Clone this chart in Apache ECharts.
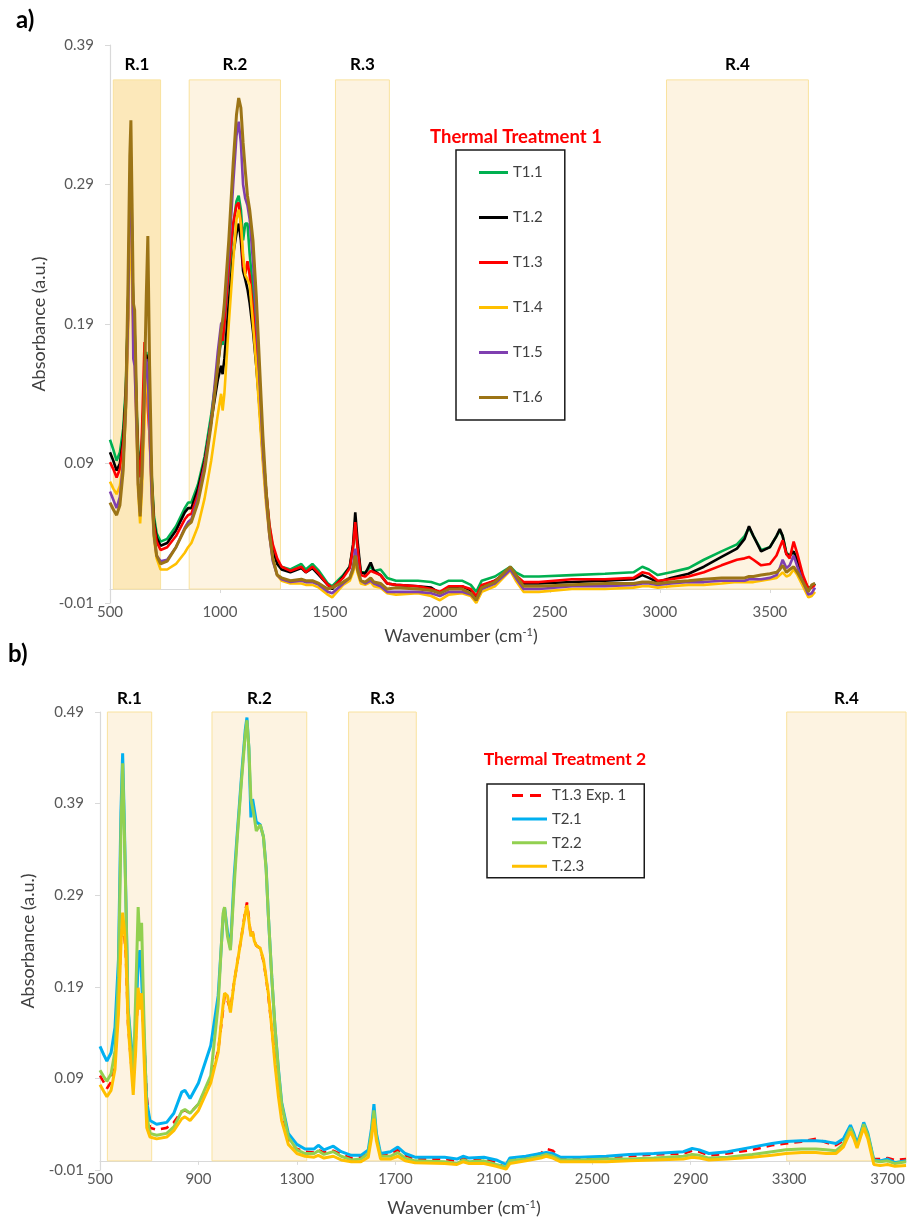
<!DOCTYPE html>
<html>
<head>
<meta charset="utf-8">
<script src="https://cdn.jsdelivr.net/npm/echarts@6/dist/echarts.min.js"></script>
<style>
  html, body { margin: 0; padding: 0; background: #ffffff; }
  #chart { width: 908px; height: 1221px; }
</style>
</head>
<body>
<div id="chart"></div>
<script>
// ---------- Panel a: Thermal Treatment 1 (six samples) ----------
const wnA = [500,515,530,545,560,572,582,590,595,600,606,612,620,628,637,645,657,665,672,680,690,700,712,730,760,800,840,855,870,900,930,960,990,1005,1012,1020,1040,1060,1075,1085,1095,1105,1115,1125,1135,1150,1165,1180,1195,1210,1225,1240,1260,1280,1320,1370,1390,1420,1450,1490,1510,1560,1590,1605,1615,1625,1640,1660,1685,1700,1730,1760,1800,1900,1960,2000,2040,2100,2140,2165,2190,2250,2300,2320,2345,2380,2450,2600,2750,2880,2920,2950,2990,3050,3130,3200,3280,3350,3385,3405,3425,3460,3500,3530,3545,3558,3575,3590,3608,3625,3650,3675,3690,3705];

const t11 = [.107,.100,.092,.098,.115,.145,.200,.270,.295,.250,.195,.185,.135,.100,.088,.105,.150,.170,.160,.120,.080,.052,.040,.034,.036,.045,.058,.062,.062,.075,.095,.125,.160,.178,.175,.190,.225,.260,.278,.282,.272,.250,.262,.262,.240,.215,.175,.140,.100,.070,.045,.030,.020,.016,.014,.018,.014,.018,.013,.004,.002,.010,.016,.030,.045,.030,.012,.012,.016,.013,.014,.008,.006,.006,.005,.003,.006,.006,.003,-.002,.006,.009,.014,.016,.012,.009,.009,.010,.011,.012,.016,.014,.010,.012,.015,.021,.027,.032,.038,.044,.038,.028,.030,.038,.042,.038,.026,.024,.027,.020,.008,.000,.002,.004];
const t12 = [.098,.092,.085,.090,.108,.140,.200,.270,.295,.250,.195,.185,.130,.095,.083,.100,.150,.168,.160,.118,.076,.048,.037,.031,.033,.042,.055,.058,.058,.072,.092,.120,.150,.160,.154,.165,.205,.240,.255,.262,.250,.228,.222,.215,.205,.185,.160,.130,.095,.065,.042,.028,.018,.014,.012,.015,.012,.015,.010,.003,.000,.009,.016,.032,.055,.035,.012,.011,.019,.013,.010,.004,.003,.002,.001,-.003,.001,.002,-.001,-.006,.002,.006,.012,.015,.010,.004,.004,.005,.006,.007,.010,.008,.005,.008,.011,.016,.023,.029,.036,.045,.038,.027,.030,.038,.043,.038,.025,.024,.027,.020,.008,.000,.002,.004];
const t13 = [.091,.086,.080,.086,.104,.136,.195,.265,.290,.245,.190,.180,.125,.092,.080,.110,.177,.150,.130,.110,.072,.046,.034,.028,.030,.038,.050,.053,.054,.068,.090,.120,.160,.181,.178,.190,.230,.262,.275,.277,.262,.232,.226,.235,.225,.200,.170,.140,.100,.070,.046,.032,.022,.016,.013,.016,.012,.016,.011,.003,.001,.008,.015,.030,.048,.030,.010,.009,.013,.012,.010,.004,.003,.002,.000,-.002,.002,.002,.000,-.005,.003,.006,.012,.015,.010,.005,.005,.007,.007,.008,.012,.011,.006,.007,.009,.012,.017,.021,.022,.023,.021,.017,.018,.024,.030,.035,.025,.022,.034,.025,.010,.000,.001,.003];
const t14 = [.077,.072,.068,.074,.092,.125,.180,.250,.275,.230,.175,.165,.115,.070,.047,.070,.120,.155,.150,.110,.062,.036,.022,.014,.014,.018,.026,.030,.033,.045,.065,.092,.125,.140,.128,.140,.190,.235,.265,.272,.262,.240,.225,.222,.218,.190,.160,.125,.090,.060,.038,.022,.010,.006,.004,.004,.003,.003,.001,-.004,-.006,.003,.006,.012,.020,.012,.004,.003,.005,.002,.001,-.003,-.004,-.003,-.005,-.008,-.004,-.003,-.005,-.010,-.002,.002,.010,.013,.006,-.002,-.002,.000,.000,.001,.002,.002,.001,.002,.003,.003,.004,.005,.005,.005,.005,.006,.007,.008,.010,.012,.009,.010,.014,.010,.002,-.006,-.005,-.002];
const t15 = [.070,.064,.058,.066,.090,.130,.195,.280,.310,.260,.165,.160,.120,.075,.055,.080,.140,.165,.155,.115,.065,.038,.024,.020,.021,.030,.044,.048,.050,.065,.088,.120,.170,.190,.192,.200,.240,.290,.325,.335,.320,.290,.280,.275,.265,.235,.195,.150,.100,.065,.038,.020,.010,.007,.005,.006,.005,.005,.003,-.002,-.003,.004,.008,.016,.029,.016,.006,.004,.006,.004,.002,-.002,-.002,-.002,-.003,-.005,-.002,-.002,-.004,-.008,.000,.004,.011,.014,.008,.000,.000,.002,.002,.003,.004,.004,.003,.004,.005,.005,.006,.006,.006,.007,.007,.007,.008,.010,.015,.021,.015,.017,.024,.016,.005,-.004,-.003,.001];
const t16 = [.062,.057,.053,.060,.085,.135,.220,.310,.336,.280,.205,.200,.140,.075,.052,.085,.150,.210,.253,.160,.080,.040,.024,.018,.020,.030,.043,.046,.048,.062,.085,.118,.160,.185,.192,.205,.250,.305,.340,.352,.345,.320,.300,.282,.272,.250,.210,.160,.110,.070,.040,.022,.010,.008,.006,.007,.006,.006,.004,.000,.001,.005,.008,.014,.024,.014,.006,.005,.008,.005,.004,.000,.001,.000,-.001,-.003,.000,.000,-.003,-.008,.001,.005,.013,.016,.010,.002,.002,.003,.004,.004,.005,.005,.004,.005,.006,.007,.008,.008,.008,.009,.009,.010,.011,.012,.014,.017,.012,.014,.016,.012,.005,-.002,.003,.004];

// ---------- Panel b: Thermal Treatment 2 (reference + three samples) ----------
const wnB = [500,515,528,545,561,575,585,592,598,605,614,624,635,645,655,662,669,678,690,703,730,771,800,832,845,866,900,950,980,1000,1006,1018,1030,1045,1057,1075,1090,1097,1105,1113,1120,1127,1135,1151,1164,1175,1184,1198,1211,1225,1238,1265,1300,1333,1370,1387,1410,1448,1480,1521,1560,1590,1603,1613,1623,1640,1680,1710,1740,1780,1900,1950,1975,2000,2060,2110,2150,2165,2230,2290,2313,2340,2370,2450,2557,2650,2750,2870,2906,2935,2974,3050,3150,3230,3287,3350,3409,3450,3490,3520,3549,3563,3576,3590,3603,3620,3644,3670,3700,3730,3775];

const t13exp1 = [.093,.086,.079,.086,.110,.170,.240,.268,.250,.225,.150,.115,.080,.130,.185,.170,.175,.138,.070,.036,.034,.036,.042,.054,.055,.052,.062,.090,.120,.165,.180,.175,.165,.195,.215,.245,.272,.282,.265,.245,.250,.240,.235,.232,.218,.200,.180,.145,.110,.075,.050,.022,.013,.010,.009,.012,.009,.011,.007,.003,.004,.009,.030,.055,.026,.006,.008,.012,.006,.002,.002,.000,.003,.002,.002,-.002,-.008,.001,.004,.008,.013,.011,.003,.003,.004,.005,.007,.008,.011,.010,.006,.008,.012,.017,.019,.021,.024,.020,.017,.022,.036,.028,.017,.028,.039,.027,.002,.002,.003,.001,.002];
const t21 = [.125,.116,.109,.118,.146,.220,.380,.445,.380,.290,.167,.136,.105,.140,.220,.230,.200,.140,.064,.044,.040,.042,.052,.075,.077,.068,.085,.126,.180,.265,.277,.250,.232,.310,.355,.420,.470,.484,.450,.375,.395,.397,.370,.367,.354,.320,.268,.200,.146,.100,.064,.030,.018,.013,.013,.017,.012,.016,.010,.006,.006,.012,.035,.062,.030,.008,.010,.015,.008,.004,.004,.002,.005,.003,.004,.001,-.004,.003,.005,.008,.009,.008,.004,.004,.005,.007,.008,.010,.0135,.012,.008,.010,.015,.019,.021,.022,.022,.021,.019,.024,.039,.030,.019,.030,.042,.030,.001,.000,.002,-.002,.000];
const t22 = [.099,.092,.087,.095,.120,.200,.360,.434,.370,.285,.165,.126,.089,.180,.277,.240,.260,.160,.050,.030,.028,.030,.037,.054,.056,.052,.062,.093,.170,.270,.277,.245,.230,.300,.350,.415,.465,.481,.450,.395,.385,.375,.360,.367,.354,.318,.268,.200,.146,.098,.062,.026,.012,.008,.008,.011,.007,.010,.005,.001,.002,.008,.030,.055,.026,.005,.005,.009,.003,.000,-.001,-.003,.001,-.001,.000,-.004,-.007,.000,.002,.005,.007,.005,.001,.001,.002,.002,.003,.005,.007,.006,.003,.004,.007,.010,.012,.013,.013,.012,.011,.018,.036,.027,.016,.028,.040,.028,.000,-.001,.000,-.003,-.001];
const t23 = [.083,.076,.070,.077,.100,.160,.235,.271,.255,.228,.150,.112,.072,.120,.189,.165,.183,.120,.036,.026,.024,.026,.033,.046,.048,.044,.055,.085,.118,.170,.183,.180,.162,.195,.215,.245,.270,.279,.262,.245,.250,.240,.235,.232,.220,.200,.183,.145,.105,.070,.044,.018,.008,.005,.004,.006,.003,.005,.001,-.001,-.001,.004,.025,.046,.022,.002,.002,.005,.000,-.002,-.003,-.004,-.001,-.003,-.003,-.006,-.009,-.003,.000,.003,.005,.003,-.001,-.001,-.001,.000,.001,.002,.004,.003,.001,.002,.004,.006,.008,.009,.009,.008,.008,.015,.032,.024,.014,.026,.036,.024,-.004,-.005,-.004,-.006,-.005];

// Highlighted spectral regions
const regionNames = ['R.1', 'R.2', 'R.3', 'R.4'];
const regionFromA = [515, 860, 1525, 3030];
const regionToA = [730, 1275, 1770, 3675];
const regionTopA = 0.365;
const regionFromB = [530, 955, 1510, 3290];
const regionToB = [710, 1340, 1785, 3775];
const regionTopB = 0.49;

// Axis tick values
const yTicksA = [-0.01, 0.09, 0.19, 0.29, 0.39];
const xTicksA = [500, 1000, 1500, 2000, 2500, 3000, 3500];
const yTicksB = [-0.01, 0.09, 0.19, 0.29, 0.39, 0.49];
const xTicksB = [500, 900, 1300, 1700, 2100, 2500, 2900, 3300, 3700];

const FONT = 'Lato, "Open Sans", sans-serif';
const AXIS_GRAY = '#D9D9D9';
const LABEL_GRAY = '#595959';
const TITLE_GRAY = '#404040';

// Legend glyphs: a plain stroke, and a two-dash stroke for the dashed reference curve
const ICON_SOLID = 'rect';
const ICON_DASHED = 'path://M0,0h11v3h-11z M18,0h11v3h-11z M34.8,1.4h0.2v0.2h-0.2z';

const chart = echarts.init(document.getElementById('chart'), null, { renderer: 'canvas' });

function lineSeries(name, wn, values, color, axis, extra) {
  return Object.assign({
    type: 'line',
    name: name,
    xAxisIndex: axis,
    yAxisIndex: axis,
    data: wn.map((w, i) => [w, values[i]]),
    showSymbol: false,
    symbol: 'none',
    silent: true,
    clip: false,
    lineStyle: { width: 2.6, color: color },
    itemStyle: { color: color }
  }, extra || {});
}

function regionArea(from, to, top, fills, labelDistance) {
  return {
    silent: true,
    label: { show: true, position: 'top', distance: labelDistance, fontFamily: FONT, fontWeight: 'bold', fontSize: 17, color: '#000000' },
    itemStyle: { color: '#FDF3E1', borderColor: '#F9E29E', borderWidth: 1 },
    data: regionNames.map((n, i) => [
      { name: n, xAxis: from[i], yAxis: 0, itemStyle: fills[i] ? { color: fills[i] } : undefined },
      { xAxis: to[i], yAxis: top }
    ])
  };
}

const seriesA = [
  lineSeries('T1.1', wnA, t11, '#00B050', 0, { markArea: regionArea(regionFromA, regionToA, regionTopA, ['#FCE8BA', null, null, null], 6) }),
  lineSeries('T1.2', wnA, t12, '#000000', 0),
  lineSeries('T1.3', wnA, t13, '#FF0000', 0),
  lineSeries('T1.4', wnA, t14, '#FFC000', 0),
  lineSeries('T1.5', wnA, t15, '#7F3FB0', 0),
  lineSeries('T1.6', wnA, t16, '#9C7416', 0, { lineStyle: { width: 3, color: '#9C7416' } })
];

const seriesB = [
  lineSeries('T1.3 Exp. 1', wnB, t13exp1, '#FF0000', 1, {
    lineStyle: { width: 2.6, color: '#FF0000', type: [8, 6] },
    markArea: regionArea(regionFromB, regionToB, regionTopB, [null, null, null, null], 4)
  }),
  lineSeries('T2.1', wnB, t21, '#00B0F0', 1, { lineStyle: { width: 3, color: '#00B0F0' } }),
  lineSeries('T2.2', wnB, t22, '#92D050', 1, { lineStyle: { width: 3, color: '#92D050' } }),
  lineSeries('T.2.3', wnB, t23, '#FFC000', 1, { lineStyle: { width: 3, color: '#FFC000' } })
];

function valueYAxis(grid, min, max, ticks, nameGap) {
  return {
    type: 'value', gridIndex: grid, min: min, max: max,
    name: 'Absorbance (a.u.)', nameLocation: 'middle', nameGap: nameGap,
    nameTextStyle: { fontFamily: FONT, fontSize: 18, color: TITLE_GRAY },
    axisLine: { show: true, lineStyle: { color: AXIS_GRAY, width: 1.2 } },
    axisTick: { show: true, length: 5, lineStyle: { color: AXIS_GRAY }, customValues: ticks },
    axisLabel: { fontFamily: FONT, fontSize: 15, color: LABEL_GRAY, margin: 16, customValues: ticks, formatter: v => v.toFixed(2) },
    splitLine: { show: false }
  };
}

// The horizontal axis crosses the vertical one at zero absorbance;
// offset lifts it from the plot bottom (-0.01) up to that zero level.
function valueXAxis(grid, min, max, ticks, offset, margin) {
  return {
    type: 'value', gridIndex: grid, min: min, max: max,
    position: 'bottom', offset: offset,
    axisLine: { show: true, onZero: false, lineStyle: { color: AXIS_GRAY, width: 1.2 } },
    axisTick: { show: true, length: 4, lineStyle: { color: AXIS_GRAY }, customValues: ticks },
    axisLabel: { fontFamily: FONT, fontSize: 15, color: LABEL_GRAY, margin: margin, customValues: ticks, formatter: v => String(v) },
    splitLine: { show: false }
  };
}

const option = {
  animation: false,
  backgroundColor: '#ffffff',
  grid: [
    { left: 110, top: 45, width: 705, height: 558 },
    { left: 100, top: 712, width: 807, height: 458 }
  ],
  xAxis: [
    valueXAxis(0, 500, 3705, xTicksA, -13.95, 16),
    valueXAxis(1, 500, 3775, xTicksB, -9.16, 11)
  ],
  yAxis: [
    valueYAxis(0, -0.01, 0.39, yTicksA, 54),
    valueYAxis(1, -0.01, 0.49, yTicksB, 63)
  ],
  legend: [
    {
      data: ['T1.1', 'T1.2', 'T1.3', 'T1.4', 'T1.5', 'T1.6'].map(n => ({ name: n, icon: ICON_SOLID })),
      orient: 'vertical', left: 456, top: 150,
      padding: [15, 22, 15, 23], itemGap: 30, itemWidth: 29, itemHeight: 3,
      borderColor: '#1a1a1a', borderWidth: 1.5, selectedMode: false,
      textStyle: { fontFamily: FONT, fontSize: 15, color: TITLE_GRAY }
    },
    {
      data: [
        { name: 'T1.3 Exp. 1', icon: ICON_DASHED },
        { name: 'T2.1', icon: ICON_SOLID },
        { name: 'T2.2', icon: ICON_SOLID },
        { name: 'T.2.3', icon: ICON_SOLID }
      ],
      orient: 'vertical', left: 487, top: 784,
      padding: [4, 18, 4, 25], itemGap: 8.6, itemWidth: 35, itemHeight: 3,
      borderColor: '#1a1a1a', borderWidth: 1.5, selectedMode: false,
      textStyle: { fontFamily: FONT, fontSize: 15, color: TITLE_GRAY }
    }
  ],
  graphic: [
    { type: 'text', left: 16, top: 8, style: { text: 'a)', font: 'bold 24px ' + FONT, fill: '#000000' } },
    { type: 'text', left: 8, top: 642, style: { text: 'b)', font: 'bold 24px ' + FONT, fill: '#000000' } },
    { type: 'text', x: 516, y: 137, style: { text: 'Thermal Treatment 1', font: 'bold 18.5px ' + FONT, fill: '#FF0000', align: 'center', verticalAlign: 'middle' } },
    { type: 'text', x: 565, y: 759, style: { text: 'Thermal Treatment 2', font: 'bold 17.5px ' + FONT, fill: '#FF0000', align: 'center', verticalAlign: 'middle' } },
    { type: 'text', x: 461, y: 636, style: {
        text: 'Wavenumber (cm{s|-1})', align: 'center', verticalAlign: 'middle',
        font: '18px ' + FONT, fill: TITLE_GRAY,
        rich: { s: { fontFamily: FONT, fontSize: 11, fill: TITLE_GRAY, verticalAlign: 'top' } } } },
    { type: 'text', x: 464, y: 1208, style: {
        text: 'Wavenumber (cm{s|-1})', align: 'center', verticalAlign: 'middle',
        font: '18px ' + FONT, fill: TITLE_GRAY,
        rich: { s: { fontFamily: FONT, fontSize: 11, fill: TITLE_GRAY, verticalAlign: 'top' } } } }
  ],
  series: seriesA.concat(seriesB)
};

chart.setOption(option);
</script>
</body>
</html>
